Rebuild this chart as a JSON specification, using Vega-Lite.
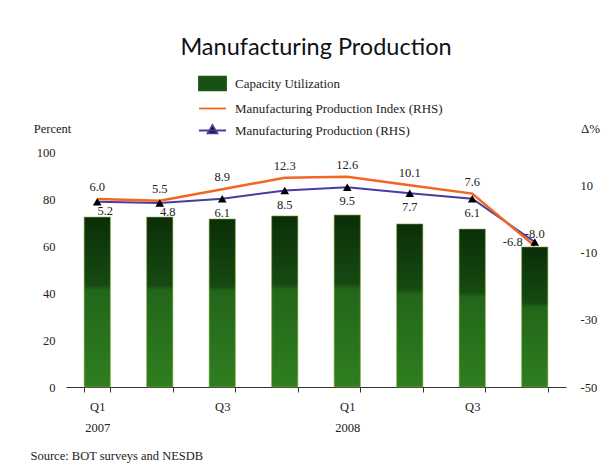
{
  "$schema": "https://vega.github.io/schema/vega-lite/v6.json",
  "width": 500,
  "height": 235,
  "autosize": {"type": "none"},
  "padding": {"left": 66, "top": 152, "right": 44, "bottom": 83},
  "background": "white",
  "title": {"text": "Manufacturing Production", "font": "Lato", "fontSize": 23.5, "fontWeight": "normal", "color": "#111111", "anchor": "middle", "offset": 10},
  "config": {"view": {"stroke": null}, "font": "Liberation Serif",
    "locale": {"number": {"decimal": ".", "thousands": ",", "grouping": [3], "currency": ["$", ""], "minus": "-"}}},
  "data": {"values": [
    {"q": "2007-Q1", "cap": 72.3, "mpi": 6.0, "mp": 5.2},
    {"q": "2007-Q2", "cap": 72.3, "mpi": 5.5, "mp": 4.8},
    {"q": "2007-Q3", "cap": 71.5, "mpi": 8.9, "mp": 6.1},
    {"q": "2007-Q4", "cap": 72.8, "mpi": 12.3, "mp": 8.5},
    {"q": "2008-Q1", "cap": 73.2, "mpi": 12.6, "mp": 9.5},
    {"q": "2008-Q2", "cap": 69.4, "mpi": 10.1, "mp": 7.7},
    {"q": "2008-Q3", "cap": 67.2, "mpi": 7.6, "mp": 6.1},
    {"q": "2008-Q4", "cap": 59.6, "mpi": -8.0, "mp": -6.8}
  ]},
  "layer": [
    {
      "mark": {"type": "bar", "fill": {"gradient": "linear", "x1": 0, "y1": 0, "x2": 0, "y2": 1, "stops": [
        {"offset": 0, "color": "#0B2E09"},
        {"offset": 0.4, "color": "#164A11"},
        {"offset": 0.43, "color": "#23661A"},
        {"offset": 1, "color": "#2F7E20"}]}, "stroke": "#86AE3A", "strokeWidth": 0.6},
      "encoding": {
        "x": {"field": "q", "type": "ordinal", "sort": null,
          "scale": {"paddingInner": 0.58, "paddingOuter": 0.29},
          "axis": {"title": "Source: BOT surveys and NESDB", "titleFont": "Liberation Serif", "titleFontSize": 12.5, "titleFontWeight": "normal", "titleColor": "#222222", "titleAlign": "left", "titleBaseline": "middle", "titleX": -36, "titleY": 68, "titleAngle": 0,
            "tickBand": "extent", "domainColor": "#333333", "tickColor": "#333333", "tickSize": 5, "labelAngle": 0, "labelFont": "Liberation Serif", "labelFontSize": 12.5, "labelColor": "#222222", "labelPadding": 8, "labelLineHeight": 21, "labelBaseline": "top",
            "labelExpr": "datum.value == '2007-Q1' ? ['Q1', '2007'] : datum.value == '2007-Q3' ? 'Q3' : datum.value == '2008-Q1' ? ['Q1', '2008'] : datum.value == '2008-Q3' ? 'Q3' : ''"}},
        "y": {"field": "cap", "type": "quantitative", "scale": {"domain": [0, 100]},
          "axis": {"orient": "left", "values": [0, 20, 40, 60, 80, 100], "grid": false, "domain": false, "ticks": false, "labelPadding": 11, "labelOverlap": false, "labelFont": "Liberation Serif", "labelFontSize": 12.5, "labelColor": "#222222",
            "title": "Percent", "titleAngle": 0, "titleX": -14, "titleY": -24, "titleAlign": "center", "titleBaseline": "middle", "titleFont": "Liberation Serif", "titleFontSize": 12.5, "titleFontWeight": "normal", "titleColor": "#222222"}}
      }
    },
    {
      "encoding": {"x": {"field": "q", "type": "ordinal", "sort": null}},
      "layer": [
        {
          "mark": {"type": "line", "strokeWidth": 2},
          "encoding": {
            "y": {"field": "mp", "type": "quantitative", "scale": {"domain": [-50, 20]},
              "axis": {"orient": "right", "values": [-50, -40, -30, -20, -10, 0, 10, 20], "labelOverlap": false, "grid": false, "domain": false, "ticks": false, "labelPadding": 14, "labelFont": "Liberation Serif", "labelFontSize": 12.5, "labelColor": "#222222",
                "title": "Δ%", "titleAngle": 0, "titleX": 24, "titleY": -24, "titleAlign": "center", "titleBaseline": "middle", "titleFont": "Liberation Serif", "titleFontSize": 13, "titleFontWeight": "normal", "titleColor": "#222222"}},
            "color": {"datum": "Manufacturing Production (RHS)", "type": "nominal",
              "scale": {"domain": ["Capacity Utilization", "Manufacturing Production Index (RHS)", "Manufacturing Production (RHS)"], "range": ["#1B5415", "#F26522", "#4A3B9E"]},
              "legend": {"orient": "none", "legendX": 132, "legendY": -83, "title": null, "direction": "vertical", "padding": 0, "labelFont": "Liberation Serif", "labelFontSize": 13, "labelColor": "#222222", "labelOffset": 8, "labelLimit": 400, "symbolSize": 729, "rowPadding": 0,
                "encode": {"symbols": {"update": {
                  "shape": {"signal": "datum.value == 'Capacity Utilization' ? 'M-1,-0.5H1V0.5H-1Z' : datum.value == 'Manufacturing Production (RHS)' ? 'M-1,0H1M0,-0.4L0.36,0.22L-0.36,0.22Z' : 'M-1,0H1'"},
                  "fill": {"signal": "datum.value == 'Capacity Utilization' ? '#185113' : datum.value == 'Manufacturing Production (RHS)' ? '#000000' : 'transparent'"},
                  "stroke": {"signal": "datum.value == 'Capacity Utilization' ? 'transparent' : datum.value == 'Manufacturing Production (RHS)' ? '#2E2470' : '#F26522'"},
                  "strokeWidth": {"value": 1.8},
                  "opacity": {"value": 1}}}}}}
          }
        },
        {
          "mark": {"type": "line", "strokeWidth": 2.5},
          "encoding": {
            "y": {"field": "mpi", "type": "quantitative", "scale": {"domain": [-50, 20]}},
            "color": {"datum": "Manufacturing Production Index (RHS)", "type": "nominal"}
          }
        },
        {
          "mark": {"type": "point", "shape": "triangle-up", "filled": true, "color": "#000000", "size": 75, "opacity": 1},
          "encoding": {"y": {"field": "mp", "type": "quantitative", "scale": {"domain": [-50, 20]}}}
        },
        {
          "mark": {"type": "text", "dy": -12, "font": "Liberation Serif", "fontSize": 12.5, "color": "#222222"},
          "encoding": {
            "y": {"field": "mpi", "type": "quantitative", "scale": {"domain": [-50, 20]}},
            "text": {"field": "mpi", "type": "quantitative", "format": ".1f"}
          }
        },
        {
          "transform": [{"filter": {"field": "q", "oneOf": ["2007-Q3", "2007-Q4", "2008-Q1", "2008-Q2", "2008-Q3"]}}],
          "mark": {"type": "text", "dy": 14, "font": "Liberation Serif", "fontSize": 12.5, "color": "#222222"},
          "encoding": {
            "y": {"field": "mp", "type": "quantitative", "scale": {"domain": [-50, 20]}},
            "text": {"field": "mp", "type": "quantitative", "format": ".1f"}
          }
        },
        {
          "transform": [{"filter": {"field": "q", "oneOf": ["2007-Q1", "2007-Q2"]}}],
          "mark": {"type": "text", "dx": 8, "dy": 9, "font": "Liberation Serif", "fontSize": 12.5, "color": "#222222"},
          "encoding": {
            "y": {"field": "mp", "type": "quantitative", "scale": {"domain": [-50, 20]}},
            "text": {"field": "mp", "type": "quantitative", "format": ".1f"}
          }
        },
        {
          "transform": [{"filter": {"field": "q", "oneOf": ["2008-Q4"]}}],
          "mark": {"type": "text", "dx": -22, "dy": 0, "font": "Liberation Serif", "fontSize": 12.5, "color": "#222222"},
          "encoding": {
            "y": {"field": "mp", "type": "quantitative", "scale": {"domain": [-50, 20]}},
            "text": {"field": "mp", "type": "quantitative", "format": ".1f"}
          }
        }
      ]
    }
  ],
  "resolve": {"scale": {"y": "independent"}}
}
